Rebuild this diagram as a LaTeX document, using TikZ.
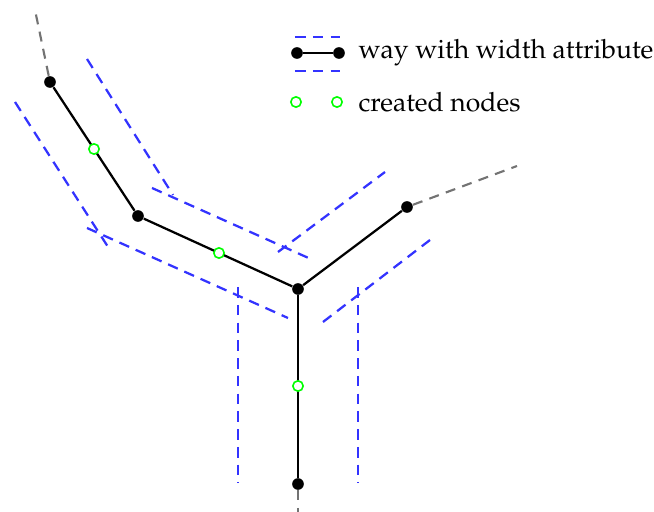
\documentclass[tikz,border=0pt]{standalone}
\usepackage[T1]{fontenc}
\usepackage{mathpazo}
\usepackage{tikz}

\begin{document}
\begin{tikzpicture}[x=0.377pt, y=-0.377pt,
    waynode/.style={circle, fill=black, inner sep=0pt, minimum size=4.4pt},
    newnode/.style={circle, draw=green, fill=white, line width=0.6pt, inner sep=0pt, minimum size=3.9pt},
    way/.style={line width=0.85pt},
    border/.style={blue!80, line width=0.85pt, dash pattern=on 4pt off 2.7pt},
    link/.style={black!55, line width=0.8pt, dash pattern=on 3.8pt off 2.8pt}]
    \useasboundingbox (0,0) rectangle (654,512);

    \coordinate (a0) at (35,10);
    \coordinate (d0) at (517,166);
    \coordinate (e0) at (298,512);

    \node[waynode] (a) at (50,82) {};
    \node[waynode] (b) at (138,216) {};
    \node[waynode] (c) at (298,289) {};
    \node[waynode] (d) at (407,207) {};
    \node[waynode] (e) at (298,484) {};

    \draw[link] (a) -- (a0);
    \draw[link] (d) -- (d0);
    \draw[link] (e) -- (e0);

    \draw[border] (87,59) -- (173,195);
    \draw[border] (15,102) -- (110,250);
    \draw[border] (152,188) -- (313,260);
    \draw[border] (87,228) -- (288,318);
    \draw[border] (278,252) -- (385,172);
    \draw[border] (323,322) -- (430,240);
    \draw[border] (238,287) -- (238,483);
    \draw[border] (358,287) -- (358,483);

    \draw[way] (a) -- (b) -- (c) -- (d);
    \draw[way] (c) -- (e);

    \node[newnode] (ab) at (94,149) {};
    \node[newnode] (bc) at (219,253) {};
    \node[newnode] (ce) at (298,386) {};

    \node[waynode] (l1) at (297,53) {};
    \node[waynode] (l2) at (339,53) {};
    \draw[way] (l1) -- (l2);
    \draw[border] (295,37) -- (340,37);
    \draw[border] (295,71) -- (340,71);
    \node[anchor=west, inner sep=0pt] (t1) at (358,53) {way with width attribute};

    \node[newnode] (n1) at (296,102) {};
    \node[newnode] (n2) at (337,102) {};
    \node[anchor=west, inner sep=0pt] (t2) at (358,102) {created nodes};
\end{tikzpicture}
\end{document}
